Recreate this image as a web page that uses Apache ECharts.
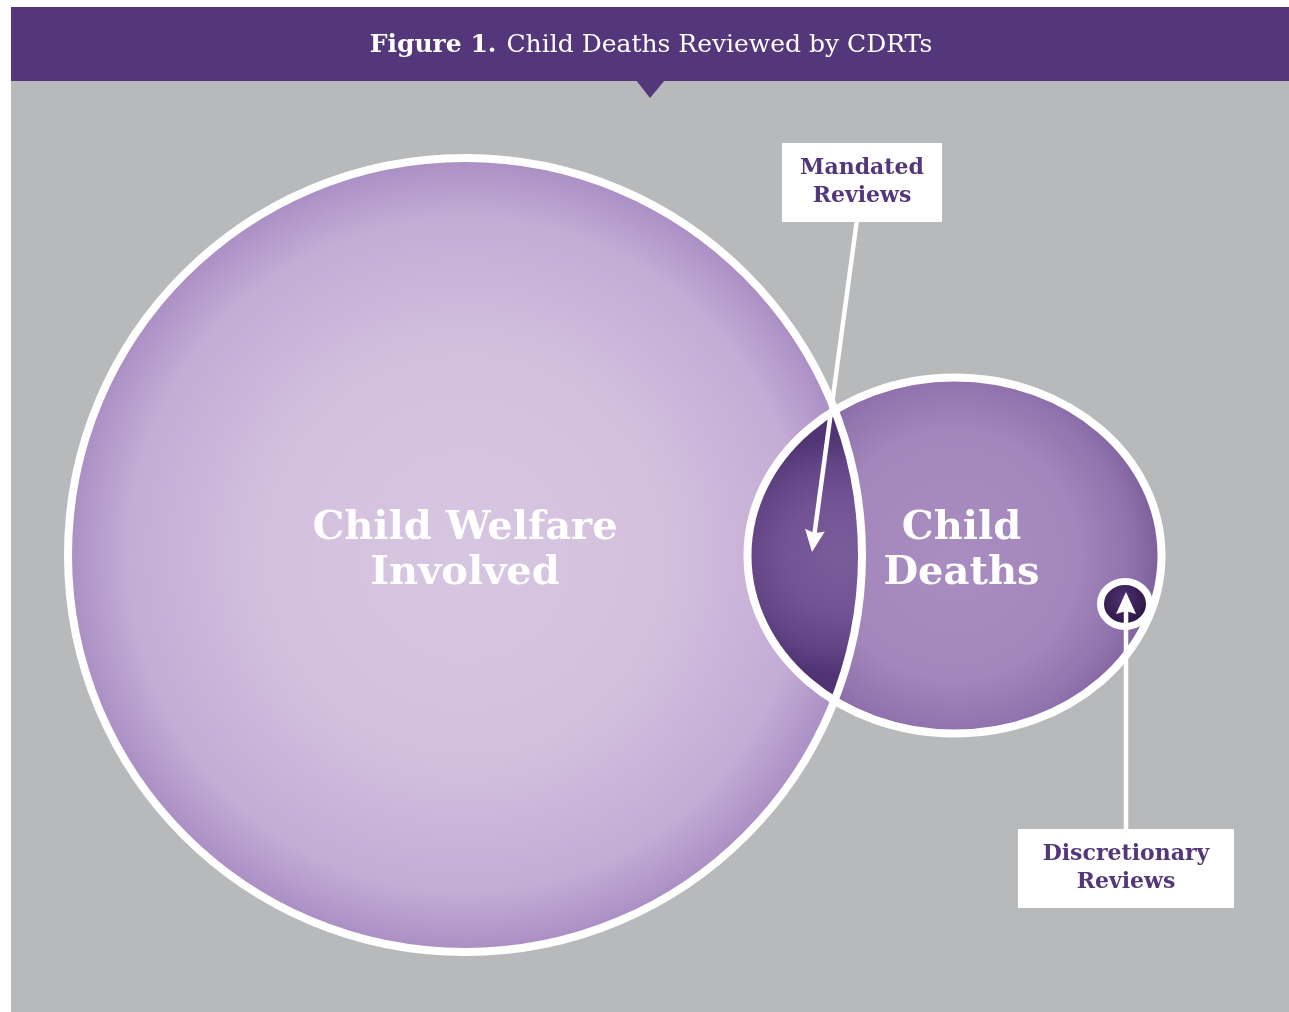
<!DOCTYPE html>
<html>
<head>
<meta charset="utf-8">
<script src="https://cdn.jsdelivr.net/npm/echarts@6/dist/echarts.min.js"></script>
<style>
  html, body { margin: 0; padding: 0; background: #ffffff; }
  #chart { width: 1289px; height: 1012px; }
</style>
</head>
<body>
<div id="chart"></div>
<script>
// sets of the diagram (plot units, y grows downward)
const setNames = ['Child Welfare\nInvolved', 'Child\nDeaths'];
const setX = [454, 943.5];
const setY = [474, 474.5];
const setRx = [397, 207];
const setRy = [397, 178];

// small subset inside "Child Deaths"
const subsetX = [1114];
const subsetY = [523];
const subsetRx = [24.5];
const subsetRy = [22.5];

// callout boxes and where their arrows point
const calloutNames = ['Mandated\nReviews', 'Discretionary\nReviews'];
const calloutX = [851, 1115];
const calloutY = [101.5, 787.5];
const arrowTipX = [801, 1115];
const arrowTipY = [471, 511];

const SERIF = "'DejaVu Serif', serif";
const PURPLE = '#54377b';

const setFills = [
  [
    { offset: 0, color: '#d7c6e1' },
    { offset: 0.5, color: '#d3c0de' },
    { offset: 0.85, color: '#c3acd5' },
    { offset: 1, color: '#aa8ec4' }
  ],
  [
    { offset: 0, color: '#a98cc0' },
    { offset: 0.6, color: '#a386bb' },
    { offset: 0.85, color: '#9072ad' },
    { offset: 1, color: '#7c5e9c' }
  ]
];
const calloutBox = [[160, 79], [216, 79]];

let myChart = echarts.init(document.getElementById('chart'));

const toPx = (api, i) => {
  const c = api.coord([setX[i], setY[i]]);
  const s = api.size([setRx[i], setRy[i]], [setX[i], setY[i]]);
  return { cx: c[0], cy: c[1], rx: s[0], ry: s[1] };
};

const inside = (e, x, y) => {
  const dx = (x - e.cx) / e.rx;
  const dy = (y - e.cy) / e.ry;
  return dx * dx + dy * dy <= 1.0001;
};

const renderSet = (params, api) => {
  const e = toPx(api, params.dataIndex);
  const r = params.dataIndex === 0 ? 0.5 : 0.58;
  return {
    type: 'ellipse',
    shape: e,
    style: { fill: new echarts.graphic.RadialGradient(0.5, 0.5, r, setFills[params.dataIndex]) }
  };
};

// overlap = part of "Child Deaths" that lies inside "Child Welfare Involved"
const renderOverlap = (params, api) => {
  const a = toPx(api, 0);
  const b = toPx(api, 1);
  const pts = [];
  const n = 1440;
  for (let k = 0; k < n; k++) {
    const t = (k / n) * Math.PI * 2;
    const x = b.cx + b.rx * Math.cos(t);
    const y = b.cy + b.ry * Math.sin(t);
    if (inside(a, x, y)) pts.push([x, y]);
  }
  for (let k = 0; k < n; k++) {
    const t = -Math.PI + (k / n) * Math.PI * 2;
    const x = a.cx + a.rx * Math.cos(t);
    const y = a.cy + a.ry * Math.sin(t);
    if (inside(b, x, y)) pts.push([x, y]);
  }
  return {
    type: 'polygon',
    shape: { points: pts },
    style: {
      fill: new echarts.graphic.RadialGradient(0.8, 0.5, 1.05, [
        { offset: 0, color: '#7b5c9b' },
        { offset: 0.45, color: '#725394' },
        { offset: 0.75, color: '#644687' },
        { offset: 1, color: '#4f3372' }
      ])
    }
  };
};

const renderOutline = (params, api) => {
  const i = params.dataIndex;
  const e = toPx(api, i);
  return {
    type: 'group',
    children: [
      {
        type: 'ellipse',
        shape: e,
        style: { fill: 'none', stroke: '#ffffff', lineWidth: 8 }
      },
      {
        type: 'text',
        style: {
          text: setNames[i],
          x: i === 0 ? e.cx : e.cx + 7,
          y: e.cy - 4,
          align: 'center',
          verticalAlign: 'middle',
          fill: '#ffffff',
          fontFamily: SERIF,
          fontWeight: 'bold',
          fontSize: 40,
          lineHeight: 45
        }
      }
    ]
  };
};

const renderSubset = (params, api) => {
  const i = params.dataIndex;
  const c = api.coord([subsetX[i], subsetY[i]]);
  const s = api.size([subsetRx[i], subsetRy[i]], [subsetX[i], subsetY[i]]);
  return {
    type: 'ellipse',
    shape: { cx: c[0], cy: c[1], rx: s[0], ry: s[1] },
    style: {
      fill: new echarts.graphic.RadialGradient(0.45, 0.4, 0.6, [
        { offset: 0, color: '#4d3270' },
        { offset: 1, color: '#27113f' }
      ]),
      stroke: '#ffffff',
      lineWidth: 7
    }
  };
};

const renderCallout = (params, api) => {
  const i = params.dataIndex;
  const box = api.coord([calloutX[i], calloutY[i]]);
  const tip = api.coord([arrowTipX[i], arrowTipY[i]]);
  const w = calloutBox[i][0];
  const h = calloutBox[i][1];
  const dx = tip[0] - box[0];
  const dy = tip[1] - box[1];
  const len = Math.sqrt(dx * dx + dy * dy);
  const ux = dx / len, uy = dy / len;
  const headLen = 22, headW = 10;
  const bx = tip[0] - ux * headLen, by = tip[1] - uy * headLen;
  return {
    type: 'group',
    children: [
      {
        type: 'line',
        shape: { x1: box[0], y1: box[1], x2: bx + ux * 3, y2: by + uy * 3 },
        style: { stroke: '#ffffff', lineWidth: 4.5 }
      },
      {
        type: 'polygon',
        shape: {
          points: [
            [tip[0], tip[1]],
            [bx - uy * headW, by + ux * headW],
            [bx + ux * 3, by + uy * 3],
            [bx + uy * headW, by - ux * headW]
          ]
        },
        style: { fill: '#ffffff' }
      },
      {
        type: 'rect',
        shape: { x: box[0] - w / 2, y: box[1] - h / 2, width: w, height: h },
        style: { fill: '#ffffff' }
      },
      {
        type: 'text',
        style: {
          text: calloutNames[i],
          x: box[0],
          y: box[1],
          align: 'center',
          verticalAlign: 'middle',
          fill: PURPLE,
          fontFamily: SERIF,
          fontWeight: 'bold',
          fontSize: 22,
          lineHeight: 28
        }
      }
    ]
  };
};

const option = {
  animation: false,
  backgroundColor: '#ffffff',
  title: {
    text: '{b|Figure 1.}  {n|Child Deaths Reviewed by CDRTs}',
    left: 646,
    top: 28,
    textAlign: 'center',
    textStyle: {
      rich: {
        b: { color: '#ffffff', fontFamily: SERIF, fontWeight: 'bold', fontSize: 25 },
        n: { color: '#ffffff', fontFamily: SERIF, fontWeight: 'normal', fontSize: 25 }
      }
    }
  },
  graphic: [
    { type: 'rect', z: -10, shape: { x: 11, y: 81, width: 1278, height: 931 }, style: { fill: '#b8b9bb' } },
    { type: 'rect', z: -10, shape: { x: 11, y: 7, width: 1278, height: 74 }, style: { fill: PURPLE } },
    { type: 'polygon', z: -10, shape: { points: [[636, 80], [665, 80], [650, 98]] }, style: { fill: PURPLE } }
  ],
  grid: { left: 11, top: 81, width: 1278, height: 931 },
  xAxis: { type: 'value', min: 0, max: 1278, show: false },
  yAxis: { type: 'value', min: 0, max: 931, inverse: true, show: false },
  series: [
    { type: 'custom', name: 'sets', renderItem: renderSet, data: setNames.map((n, i) => [setX[i], setY[i]]), z: 1 },
    { type: 'custom', name: 'overlap', renderItem: renderOverlap, data: [[setX[1], setY[1]]], z: 2 },
    { type: 'custom', name: 'outlines', renderItem: renderOutline, data: setNames.map((n, i) => [setX[i], setY[i]]), z: 3 },
    { type: 'custom', name: 'discretionary', renderItem: renderSubset, data: subsetX.map((x, i) => [x, subsetY[i]]), z: 4 },
    { type: 'custom', name: 'callouts', renderItem: renderCallout, data: calloutNames.map((n, i) => [calloutX[i], calloutY[i]]), z: 5 }
  ]
};
option && myChart.setOption(option);
</script>
</body>
</html>
